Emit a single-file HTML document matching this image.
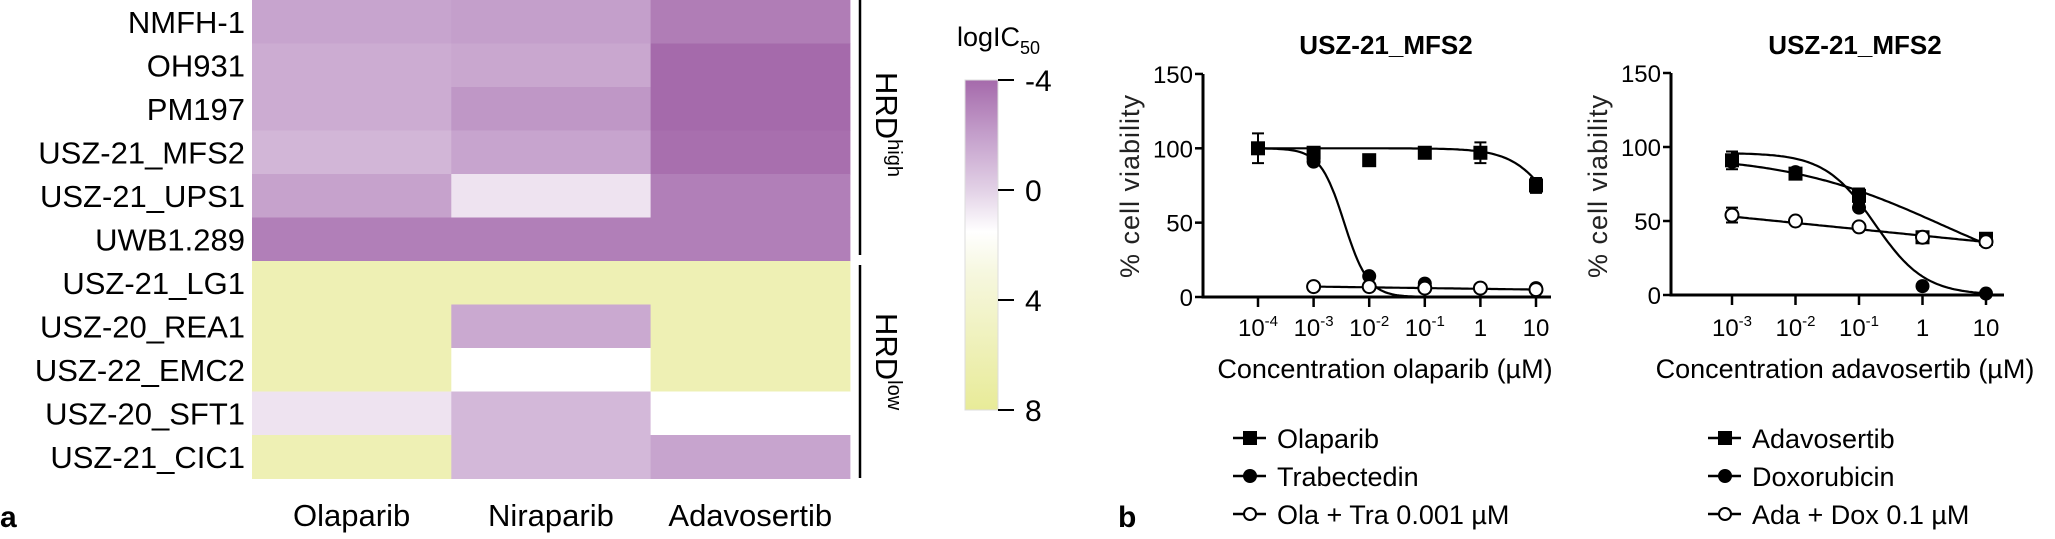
<!DOCTYPE html>
<html><head><meta charset="utf-8"><style>
html,body{margin:0;padding:0;background:#fff;}
svg{display:block;font-family:"Liberation Sans",sans-serif;}
</style></head><body>
<svg id="fig" width="2055" height="539" viewBox="0 0 2055 539" xmlns="http://www.w3.org/2000/svg">
<defs>
<linearGradient id="cbar" x1="0" y1="0" x2="0" y2="1">
<stop offset="0" stop-color="#a56aab"/><stop offset="0.167" stop-color="#c49fcb"/>
<stop offset="0.333" stop-color="#e2d1e6"/><stop offset="0.46" stop-color="#ffffff"/>
<stop offset="0.583" stop-color="#f6f7df"/><stop offset="1" stop-color="#e8eb98"/>
</linearGradient>
</defs>
<g id="heat"></g>
<g id="c1"></g>
<g id="c2"></g>
</svg>
<script>
const NS="http://www.w3.org/2000/svg";
// ---------- heatmap data ----------
const cellLines=["NMFH-1","OH931","PM197","USZ-21_MFS2","USZ-21_UPS1","UWB1.289","USZ-21_LG1","USZ-20_REA1","USZ-22_EMC2","USZ-20_SFT1","USZ-21_CIC1"];
const drugs=["Olaparib","Niraparib","Adavosertib"];
const olaVals=[-1.8,-1.5,-1.5,-1.1,-1.9,-3.2,6,6,6,0.6,6];
const niraVals=[-2.0,-1.7,-2.3,-1.8,0.6,-3.2,6,-1.6,1.5,-1.0,-1.0];
const adaVals=[-3.3,-4,-4,-3.8,-3.2,-3.2,6,6,6,1.5,-1.8];
const cbTicks=[-4,0,4,8];
// ---------- dose response data ----------
const conc1=[-4,-3,-2,-1,0,1];
const ticks1=["10^-4","10^-3","10^-2","10^-1","1","10"];
const olaY=[100,97,92,97,97,75];
const olaErr=[10,0,0,0,7,5];
const trabX=[-3,-2,-1,0,1];
const trabY=[91,14,9,6,6];
const olaTraX=[-3,-2,-1,0,1];
const olaTraY=[7,7,6,6,5];
const conc2=[-3,-2,-1,0,1];
const ticks2=["10^-3","10^-2","10^-1","1","10"];
const adaY=[91,82,67,39,38];
const adaErr=[6,0,5,0,0];
const doxY=[90,83,59,6,1];
const adaDoxY=[54,50,46,39,36];
const adaDoxErr=[5,0,0,0,0];
const yTicks=[0,50,100,150];

function el(tag,attrs,parent,txt){const e=document.createElementNS(NS,tag);for(const k in attrs)e.setAttribute(k,attrs[k]);if(txt!==undefined)e.textContent=txt;parent.appendChild(e);return e;}
function hex(c){return [parseInt(c.substr(1,2),16),parseInt(c.substr(3,2),16),parseInt(c.substr(5,2),16)];}
const stops=[[-4,"#a56aab"],[-2,"#c49fcb"],[0,"#e2d1e6"],[1.5,"#ffffff"],[3,"#f6f7df"],[8,"#e8eb98"]];
function cmap(v){v=Math.max(-4,Math.min(8,v));for(let i=0;i<stops.length-1;i++){if(v<=stops[i+1][0]){const t=(v-stops[i][0])/(stops[i+1][0]-stops[i][0]);const a=hex(stops[i][1]),b=hex(stops[i+1][1]);return "rgb("+a.map((x,j)=>Math.round(x+(b[j]-x)*t)).join(",")+")";}}return stops[stops.length-1][1];}

// heatmap
const H=document.getElementById("heat");
const hx0=252,cw=199.3,hy0=0,rh=43.5;
const cols=[olaVals,niraVals,adaVals];
cellLines.forEach((name,r)=>{
  cols.forEach((arr,c)=>{
    const rc=el("rect",{x:hx0+c*cw,y:hy0+r*rh,width:cw+0.5,height:rh+0.5,fill:cmap(arr[r])},H);
    
    
  });
  const t=el("text",{x:245,y:hy0+r*rh+rh/2+11,"text-anchor":"end","font-size":"31"},H,name);
  
  
});
drugs.forEach((d,c)=>{
  const t=el("text",{x:hx0+c*cw+cw/2,y:526,"text-anchor":"middle","font-size":"31"},H,d);
  
  
});
let pa=el("text",{x:0,y:527,"font-size":"30","font-weight":"bold"},H,"a");

// brackets
let b1=el("line",{x1:860,y1:0,x2:860,y2:255,stroke:"#000","stroke-width":2.5},H);

let b2=el("line",{x1:860,y1:265,x2:860,y2:478,stroke:"#000","stroke-width":2.5},H);

function hrd(y,sub,name){const t=el("text",{x:0,y:0,transform:"translate(876,"+y+") rotate(90)","font-size":"31"},H);
  el("tspan",{},t,"HRD");el("tspan",{"font-size":"20",dy:"-12"},t,sub);
  }
hrd(72,"high","hrd-high-label");hrd(313,"low","hrd-low-label");
// colorbar
const cbTop=80,cbBot=410,cbx=965,cbw=33;
let cb=el("rect",{x:cbx,y:cbTop,width:cbw,height:cbBot-cbTop,fill:"url(#cbar)",stroke:"#ddd","stroke-width":1},H);

const cby=v=>cbTop+(v+4)/12*(cbBot-cbTop);
cbTicks.forEach(v=>{
  el("line",{x1:cbx+cbw,x2:cbx+cbw+16,y1:cby(v),y2:cby(v),stroke:"#000","stroke-width":2},H);
  const t=el("text",{x:1025,y:cby(v)+11,"font-size":"30"},H,v<0?"-"+Math.abs(v):String(v));
  
});
let cbt=el("text",{x:957,y:46,"font-size":"27"},H);el("tspan",{},cbt,"logIC");el("tspan",{"font-size":"18",dy:"8"},cbt,"50");


// dose response charts
function hill(x,top,bot,lic,h){return bot+(top-bot)/(1+Math.pow(10,(x-lic)*h));}
function chart(G,cfg){
  const sx=v=>cfg.x0+(v-cfg.xmin)*cfg.dx;
  const sy=v=>cfg.y0-v*cfg.dy;
  let t=el("text",{x:cfg.titleX,y:54,"text-anchor":"middle","font-size":"26","font-weight":"bold"},G,"USZ-21_MFS2");
  
  el("line",{x1:cfg.ax,y1:sy(150),x2:cfg.ax,y2:sy(0)+1.5,stroke:"#000","stroke-width":3},G);
  el("line",{x1:cfg.ax,y1:sy(0),x2:cfg.axEnd,y2:sy(0),stroke:"#000","stroke-width":3},G);
  yTicks.forEach(v=>{el("line",{x1:cfg.ax-8,x2:cfg.ax,y1:sy(v),y2:sy(v),stroke:"#000","stroke-width":2.5},G);
    const l=el("text",{x:cfg.ax-10,y:sy(v)+9,"text-anchor":"end","font-size":"24"},G,String(v));
    });
  cfg.conc.forEach((c,i)=>{el("line",{x1:sx(c),x2:sx(c),y1:sy(0),y2:sy(0)+10,stroke:"#000","stroke-width":2.5},G);
    const s=cfg.ticks[i];const l=el("text",{x:sx(c),y:336,"text-anchor":"middle","font-size":"24"},G);
    if(s.indexOf("^")>=0){const p=s.split("^");el("tspan",{},l,p[0]);el("tspan",{"font-size":"15",dy:"-10"},l,p[1]);}else l.textContent=s;
    });
  let yl=el("text",{x:0,y:0,transform:"translate("+(cfg.ax-64)+",186) rotate(-90)","text-anchor":"middle","font-size":"27",fill:"#222","letter-spacing":"1"},G,"% cell viability");
  
  let xl=el("text",{x:cfg.xtX,y:378,"text-anchor":"middle","font-size":"27"},G,cfg.xt);
  
  cfg.series.forEach(s=>{
    let d="";for(let k=0;k<=120;k++){const x=s.cx0+(s.cx1-s.cx0)*k/120;const y=s.fn(x);d+=(k?"L":"M")+sx(x).toFixed(1)+","+sy(y).toFixed(1);}
    const p=el("path",{d:d,fill:"none",stroke:"#000","stroke-width":2.2},G);
    
    s.xs.forEach((x,i)=>{const X=sx(x),Y=sy(s.ys[i]);
      if(s.err&&s.err[i]){const e=s.err[i];el("path",{d:"M"+X+","+sy(s.ys[i]+e)+"V"+sy(s.ys[i]-e)+"M"+(X-6)+","+sy(s.ys[i]+e)+"h12M"+(X-6)+","+sy(s.ys[i]-e)+"h12",stroke:"#000","stroke-width":2,fill:"none"},G);}
      let m;
      if(s.shape==="sq")m=el("rect",{x:X-7,y:Y-7,width:14,height:14,fill:"#000"},G);
      else if(s.shape==="dot")m=el("circle",{cx:X,cy:Y,r:7,fill:"#000"},G);
      else m=el("circle",{cx:X,cy:Y,r:6.5,fill:"#fff",stroke:"#000","stroke-width":2},G);
      });
  });
  cfg.legend.forEach((lg,i)=>{const y=cfg.legY+i*38;const x=cfg.legX;
    el("line",{x1:x,x2:x+33,y1:y,y2:y,stroke:"#000","stroke-width":2.5},G);
    if(lg.shape==="sq")el("rect",{x:x+10,y:y-7,width:14,height:14},G);
    else if(lg.shape==="dot")el("circle",{cx:x+17,cy:y,r:7},G);
    else el("circle",{cx:x+17,cy:y,r:6,fill:"#fff",stroke:"#000","stroke-width":2},G);
    const t=el("text",{x:x+44,y:y+10,"font-size":"27"},G,lg.label);
    });
}
const G1=document.getElementById("c1");
chart(G1,{x0:1258,xmin:-4,dx:55.6,y0:297,dy:1.487,ax:1203,axEnd:1551,titleX:1386,xtX:1385,xt:"Concentration olaparib (\u00b5M)",
 conc:conc1,ticks:ticks1,legX:1233,legY:438,
 series:[
  {name:"olaparib",xs:conc1,ys:olaY,err:olaErr,shape:"sq",cx0:-4,cx1:1,fn:x=>hill(x,100,0,1.5,1.1)},
  {name:"trabectedin",xs:trabX,ys:trabY,shape:"dot",cx0:-4,cx1:1,fn:x=>hill(x,100,0,-2.45,2)},
  {name:"ola-tra",xs:olaTraX,ys:olaTraY,shape:"open",cx0:-3,cx1:1,fn:x=>7-0.5*(x+3)}
 ],
 legend:[{shape:"sq",label:"Olaparib"},{shape:"dot",label:"Trabectedin"},{shape:"open",label:"Ola + Tra 0.001 \u00b5M"}]});
const G2=document.getElementById("c2");
chart(G2,{x0:1732,xmin:-3,dx:63.5,y0:295,dy:1.48,ax:1671,axEnd:2004,titleX:1855,xtX:1845,xt:"Concentration adavosertib (\u00b5M)",
 conc:conc2,ticks:ticks2,legX:1708,legY:438,
 series:[
  {name:"adavosertib",xs:conc2,ys:adaY,err:adaErr,shape:"sq",cx0:-3,cx1:1,fn:x=>hill(x,95,0,0.3,0.35)},
  {name:"doxorubicin",xs:conc2,ys:doxY,shape:"dot",cx0:-3,cx1:1,fn:x=>hill(x,96,0,-0.75,1.1)},
  {name:"ada-dox",xs:conc2,ys:adaDoxY,err:adaDoxErr,shape:"open",cx0:-3,cx1:1,fn:x=>53-4.3*(x+3)}
 ],
 legend:[{shape:"sq",label:"Adavosertib"},{shape:"dot",label:"Doxorubicin"},{shape:"open",label:"Ada + Dox 0.1 \u00b5M"}]});
let pb=el("text",{x:1118,y:527,"font-size":"30","font-weight":"bold"},G1,"b");

</script>
</body></html>
